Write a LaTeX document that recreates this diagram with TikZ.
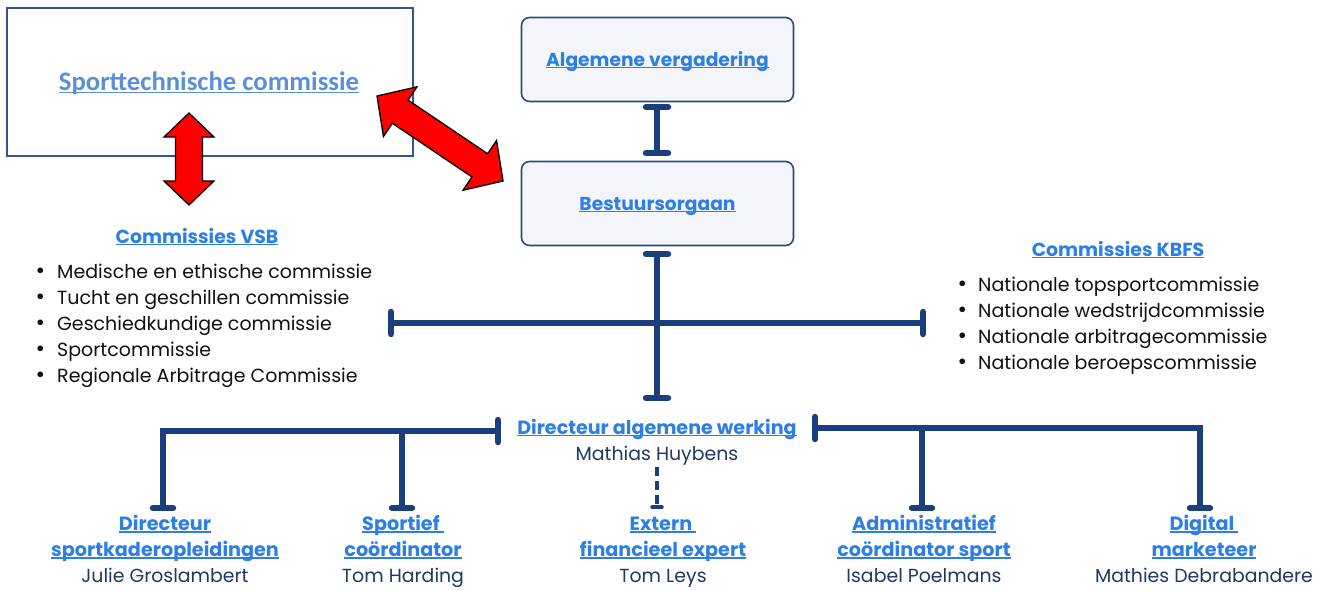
\documentclass[tikz,border=0pt]{standalone}
\usepackage{fontspec}
\setmainfont{Poppins}
\newfontfamily\calibfont{Carlito}
\definecolor{lineblue}{HTML}{1B3F7D}
\definecolor{boxborder}{HTML}{2A4A85}
\definecolor{boxfill}{HTML}{F3F5FB}
\definecolor{linkblue}{HTML}{2C7FE6}
\definecolor{stcblue}{HTML}{5B8FD6}
\definecolor{stcborder}{HTML}{2F5597}
\definecolor{namecol}{HTML}{1F3864}
\definecolor{bulletcol}{HTML}{111111}
\newcommand{\ulx}[1]{\setbox0=\hbox{#1}\rlap{\rule[-0.13em]{\wd0}{0.07em}}\box0}
\newcommand{\tbarh}[2]{\draw[tbar] ([xshift=-#2]#1) -- ([xshift=#2]#1);}
\newcommand{\tbarv}[2]{\draw[tbar] ([yshift=-#2]#1) -- ([yshift=#2]#1);}
\begin{document}
\begin{tikzpicture}[x=1pt,y=-1pt,
  conn/.style={draw=lineblue, line width=6pt},
  tbar/.style={draw=lineblue, line width=6.5pt, line cap=round},
  orgbox/.style={draw=boxborder, line width=1.6pt, fill=boxfill, rounded corners=8pt, minimum width=272pt, minimum height=84pt},
  boxtitle/.style={font=\bfseries\fontsize{18.7}{21}\selectfont, text=linkblue, anchor=base, inner sep=0pt},
  dirtitle/.style={font=\bfseries\fontsize{19.1}{21}\selectfont, text=linkblue, anchor=base, inner sep=0pt},
  commtitle/.style={font=\bfseries\fontsize{18.9}{21}\selectfont, text=linkblue, anchor=base, inner sep=0pt},
  bul/.style={font=\fontsize{19}{21}\selectfont, text=bulletcol, anchor=base west, inner sep=0pt},
  btitle/.style={font=\bfseries\fontsize{19.2}{21}\selectfont, text=linkblue, anchor=base, inner sep=0pt},
  bname/.style={font=\fontsize{18.9}{21}\selectfont, text=namecol, anchor=base, inner sep=0pt},
  redarrow/.style={draw=black, line width=1.3pt, fill=red, line join=miter}
]
\useasboundingbox[fill=white] (0,0) rectangle (1325,590);

% Sporttechnische commissie
\node[draw=stcborder, line width=1.3pt, minimum width=406pt, minimum height=148pt, inner sep=0pt] (stc) at (210,82) {};
\node[font=\calibfont\bfseries\fontsize{26.7}{29}\selectfont, text=stcblue, anchor=base, inner sep=0pt] (stct) at (209,90) {\ulx{Sporttechnische commissie}};

% boxes
\node[orgbox] (av) at (657.5,59.5) {};
\node[boxtitle] (avt) at (657.5,66) {\ulx{Algemene vergadering}};
\node[orgbox] (bo) at (657.5,203.5) {};
\node[boxtitle] (bot) at (657.5,210) {\ulx{Bestuursorgaan}};

% connector AV - BO
\coordinate (c1) at (657,107);
\coordinate (c2) at (657,153);
\draw[conn] (c1) -- (c2);
\tbarh{c1}{11pt}
\tbarh{c2}{11pt}

% BO down
\coordinate (c3) at (657,254);
\coordinate (c4) at (657,398);
\draw[conn] (c3) -- (c4);
\tbarh{c3}{11pt}
\tbarh{c4}{11pt}
\coordinate (hl) at (391,323);
\coordinate (hr) at (923,323);
\draw[conn] (hl) -- (hr);
\tbarv{hl}{11pt}
\tbarv{hr}{11pt}

% Commissies VSB
\node[commtitle] (vsbt) at (197,243) {\ulx{Commissies VSB}};
\foreach \t [count=\i] in {Medische en ethische commissie, Tucht en geschillen commissie, Geschiedkundige commissie, Sportcommissie, Regionale Arbitrage Commissie}{
  \node[bul] (vsb\i) at (57,{252+26*\i}) {\llap{{\fontsize{23}{21}\selectfont\textbullet}\hspace{12pt}}\t};
}
% Commissies KBFS
\node[commtitle] (kbt) at (1118,256) {\ulx{Commissies KBFS}};
\foreach \t [count=\i] in {Nationale topsportcommissie, Nationale wedstrijdcommissie, Nationale arbitragecommissie, Nationale beroepscommissie}{
  \node[bul] (kb\i) at (978,{265+26*\i}) {\llap{{\fontsize{23}{21}\selectfont\textbullet}\hspace{11pt}}\t};
}

% Directeur algemene werking
\node[dirtitle] (dir) at (657,434) {\ulx{Directeur algemene werking}};
\node[bname] (dirn) at (657,460) {Mathias Huybens};

% left branch
\coordinate (lb) at (498,431);
\coordinate (lc) at (163,431);
\coordinate (lm) at (402,431);
\coordinate (ld1) at (163,508);
\coordinate (ld2) at (402,508);
\draw[conn] (lb) -- (lc) -- (ld1);
\draw[conn] (lm) -- (ld2);
\tbarv{lb}{11pt}
\tbarh{ld1}{10pt}
\tbarh{ld2}{10pt}

% right branch
\coordinate (rb) at (815,428);
\coordinate (rc) at (1200,428);
\coordinate (rm) at (922,428);
\coordinate (rd1) at (922,508);
\coordinate (rd2) at (1200,508);
\draw[conn] (rb) -- (rc) -- (rd2);
\draw[conn] (rm) -- (rd1);
\tbarv{rb}{11pt}
\tbarh{rd1}{10pt}
\tbarh{rd2}{10pt}

% dashed
\coordinate (dd1) at (657,467);
\coordinate (dd2) at (657,507);
\draw[draw=lineblue, line width=3.5pt, dash pattern=on 9pt off 5pt] (dd1) -- (dd2);
\draw[draw=lineblue, line width=3.5pt, line cap=round] ([xshift=-5pt]dd2) -- ([xshift=5pt]dd2);

% bottom nodes
\node[btitle] (p1a) at (165,530) {\ulx{Directeur}};
\node[btitle] (p1b) at (165,556) {\ulx{sportkaderopleidingen}};
\node[bname] (p1c) at (165,582) {Julie Groslambert};
\node[btitle] (p2a) at (403,530) {\ulx{Sportief }};
\node[btitle] (p2b) at (403,556) {\ulx{coördinator}};
\node[bname] (p2c) at (403,582) {Tom Harding};
\node[btitle] (p3a) at (663,530) {\ulx{Extern }};
\node[btitle] (p3b) at (663,556) {\ulx{financieel expert}};
\node[bname] (p3c) at (663,582) {Tom Leys};
\node[btitle] (p4a) at (924,530) {\ulx{Administratief}};
\node[btitle] (p4b) at (924,556) {\ulx{coördinator sport}};
\node[bname] (p4c) at (924,582) {Isabel Poelmans};
\node[btitle] (p5a) at (1204,530) {\ulx{Digital }};
\node[btitle] (p5b) at (1204,556) {\ulx{marketeer}};
\node[bname] (p5c) at (1204,582) {Mathies Debrabandere};

% red double arrows
\begin{scope}[shift={(189,113)}, rotate=-90]
\draw[redarrow] (0,0) -- (24,-25) -- (24,-13.5) -- (68,-13.5) -- (68,-25) -- (92,0) -- (68,25) -- (68,13.5) -- (24,13.5) -- (24,25) -- cycle;
\end{scope}
\begin{scope}[shift={(377,96)}, rotate=-34]
\draw[redarrow] (0,0) -- (28,-30) -- (28,-14) -- (124,-14) -- (124,-30) -- (152,0) -- (124,30) -- (124,14) -- (28,14) -- (28,30) -- cycle;
\end{scope}
\end{tikzpicture}
\end{document}
